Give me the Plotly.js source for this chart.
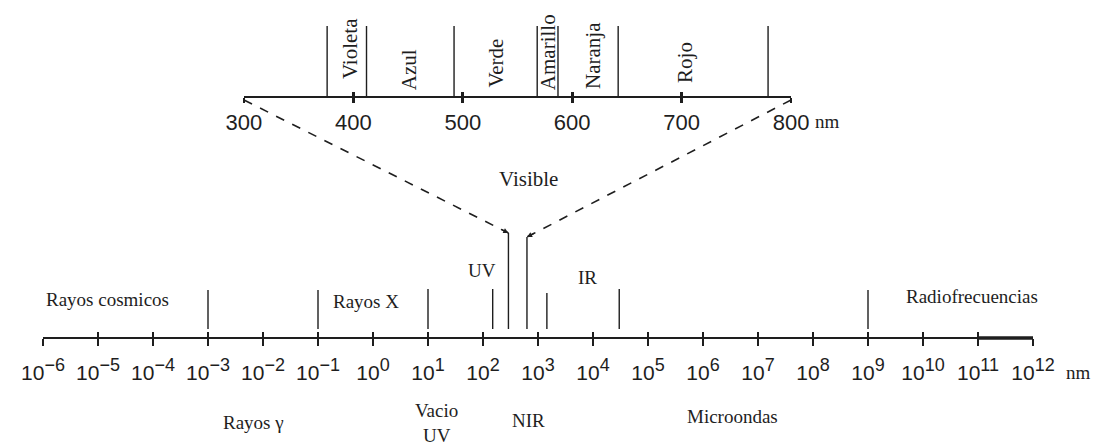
<!DOCTYPE html>
<html><head><meta charset="utf-8">
<script src="https://cdn.plot.ly/plotly-3.0.1.min.js"></script>
<style>html,body{margin:0;padding:0;background:#fff}#chart{width:1093px;height:447px}</style>
</head><body><div id="chart"></div>
<script>
// ---- Bottom scale: whole spectrum, wavelength in nm (log) ----
const decadeValues = [1e-6,1e-5,1e-4,1e-3,1e-2,1e-1,1e0,1e1,1e2,1e3,1e4,1e5,1e6,1e7,1e8,1e9,1e10,1e11,1e12];
const decadeExponents = ['−6','−5','−4','−3','−2','−1','0','1','2','3','4','5','6','7','8','9','10','11','12'];
const bandBoundariesNm = [1e-3, 1e-1, 1e1, 150, 290, 630, 1450, 3e4, 1e9];
const bandsAbove = ['Rayos cosmicos','Rayos X','UV','IR','Radiofrecuencias'];
const bandsAboveNm = [1.5e-5, 0.74, 95, 7800, 7.8e10];
const bandsBelow = ['Rayos γ','Vacio<br>UV','NIR','Microondas'];
const bandsBelowNm = [0.0066, 14.5, 660, 3.4e6];
const visibleLabel = 'Visible';
const visibleLabelNm = 660;
const visibleEdgesNm = [290, 630];
// ---- Top scale: visible spectrum (linear nm) ----
const visibleTicks = [300,400,500,600,700,800];
const colorBoundariesNm = [376,412,492,568,587,642,779];
const colorNames = ['Violeta','Azul','Verde','Amarillo','Naranja','Rojo'];
const colorLabelNm = [397,451,530,578,619,703];

// ---- layout geometry (pixels on a 447px-high y scale) ----
const H = 447;
const yBottomAxis = 338, yTopAxis = 97;
const boundaryTopY = [290,290,289,289,233,237,293,289,290];
const boundaryEndY = 329;
const colorLineTopY = 26;
const aboveY = [299,301,270,277,296];
const belowY = [422,423,420,416];
const colorLabelY = [49,70,63,52,56,62];
const top2Domain = [0.2030, 0.7556];
const ink = '#1e1e1e';
const serif = 'Liberation Serif, Times New Roman, serif';
const sans = 'Liberation Sans, Arial, Helvetica, sans-serif';

const decadeLabels = decadeExponents.map(e => '10<sup><span style="font-size:18px">' + e + '</span></sup>');

const traces = [];
const bx = [], by = [];
bandBoundariesNm.forEach((v,i)=>{ bx.push(v,v,null); by.push(boundaryTopY[i], boundaryEndY, null); });
traces.push({type:'scatter', mode:'lines', x:bx, y:by, xaxis:'x', yaxis:'y',
  line:{color:ink, width:1.4}, hoverinfo:'skip', cliponaxis:false});
traces.push({type:'scatter', mode:'lines', x:[decadeValues[17], decadeValues[18]], y:[yBottomAxis,yBottomAxis],
  xaxis:'x', yaxis:'y', line:{color:ink, width:3.6}, hoverinfo:'skip', cliponaxis:false});
const cx = [], cy = [];
colorBoundariesNm.forEach(v=>{ cx.push(v,v,null); cy.push(colorLineTopY, yTopAxis, null); });
traces.push({type:'scatter', mode:'lines', x:cx, y:cy, xaxis:'x2', yaxis:'y',
  line:{color:ink, width:1.4}, hoverinfo:'skip', cliponaxis:false});
traces.push({type:'scatter', mode:'markers', x:[decadeValues[0]], y:[-50], xaxis:'x3', yaxis:'y', marker:{opacity:0}, hoverinfo:'skip'});
traces.push({type:'scatter', mode:'markers', x:[visibleTicks[0]], y:[-50], xaxis:'x4', yaxis:'y', marker:{opacity:0}, hoverinfo:'skip'});

const posBottom = 1 - yBottomAxis/H;
const posTop = 1 - yTopAxis/H;
const logRange = [Math.log10(decadeValues[0]), Math.log10(decadeValues[decadeValues.length-1])];

const annotations = [];
bandsAbove.forEach((t,i)=>annotations.push({text:t, xref:'x', yref:'y', x:Math.log10(bandsAboveNm[i]), y:aboveY[i],
  showarrow:false, font:{family:serif, size:19, color:ink}}));
bandsBelow.forEach((t,i)=>annotations.push({text:t, xref:'x', yref:'y', x:Math.log10(bandsBelowNm[i]), y:belowY[i],
  showarrow:false, font:{family:serif, size:19, color:ink}}));
annotations.push({text:visibleLabel, xref:'x', yref:'y', x:Math.log10(visibleLabelNm), y:179, showarrow:false,
  font:{family:serif, size:21, color:ink}});
colorNames.forEach((t,i)=>annotations.push({text:t, xref:'x2', yref:'y', x:colorLabelNm[i], y:colorLabelY[i],
  textangle:-90, showarrow:false, font:{family:serif, size:21, color:ink}}));
annotations.push({text:'nm', xref:'paper', yref:'y', x:1.0, xanchor:'left', xshift:31, y:372, showarrow:false,
  font:{family:serif, size:19, color:ink}});
annotations.push({text:'nm', xref:'x2', yref:'y', x:visibleTicks[visibleTicks.length-1], xanchor:'left', xshift:22, y:121, showarrow:false,
  font:{family:serif, size:19, color:ink}});

const toPaperTop = v => top2Domain[0] + (v - visibleTicks[0])/(visibleTicks[visibleTicks.length-1]-visibleTicks[0])*(top2Domain[1]-top2Domain[0]);
const toPaperLog = v => (Math.log10(v) - logRange[0])/(logRange[1]-logRange[0]);
const shapes = [
  {type:'line', xref:'paper', yref:'y', x0:toPaperTop(visibleTicks[0]), y0:yTopAxis+3, x1:toPaperLog(visibleEdgesNm[0]), y1:233,
   line:{color:ink, width:1.6, dash:'dash'}},
  {type:'line', xref:'paper', yref:'y', x0:toPaperTop(visibleTicks[visibleTicks.length-1]), y0:yTopAxis+3, x1:toPaperLog(visibleEdgesNm[1]), y1:237,
   line:{color:ink, width:1.6, dash:'dash'}}
];
annotations.push({text:'', xref:'x', yref:'y', x:Math.log10(visibleEdgesNm[0]), y:233, ax:-9, ay:-4.5,
  showarrow:true, arrowhead:2, arrowsize:0.8, arrowwidth:1.3, arrowcolor:ink, standoff:0});
annotations.push({text:'', xref:'x', yref:'y', x:Math.log10(visibleEdgesNm[1]), y:237, ax:9, ay:-4.6,
  showarrow:true, arrowhead:2, arrowsize:0.8, arrowwidth:1.3, arrowcolor:ink, standoff:0});

const layout = {
  width:1093, height:447,
  margin:{l:43, r:60, t:0, b:0, pad:0},
  paper_bgcolor:'#ffffff', plot_bgcolor:'rgba(0,0,0,0)',
  showlegend:false,
  yaxis:{range:[H,0], domain:[0,1], visible:false, fixedrange:true},
  xaxis:{type:'log', range:logRange, anchor:'free', position:posBottom, showgrid:false, zeroline:false,
    showline:true, linecolor:ink, linewidth:2.4,
    tickmode:'array', tickvals:decadeValues, ticktext:decadeLabels, tickangle:0,
    ticks:'outside', ticklen:7, tickwidth:2.6, tickcolor:ink, ticklabelstandoff:8,
    tickfont:{family:sans, size:21, color:ink}, fixedrange:true},
  xaxis3:{type:'log', range:logRange, overlaying:'x', anchor:'free', position:posBottom, showgrid:false, zeroline:false,
    showline:false, tickmode:'array', tickvals:decadeValues, ticks:'inside', ticklen:6, tickwidth:2.6, tickcolor:ink,
    showticklabels:false, fixedrange:true},
  xaxis2:{range:[visibleTicks[0], visibleTicks[visibleTicks.length-1]], domain:top2Domain, anchor:'free', position:posTop,
    showgrid:false, zeroline:false, showline:true, linecolor:ink, linewidth:2.4,
    tickmode:'array', tickvals:visibleTicks, ticktext:visibleTicks.map(String), tickangle:0,
    ticks:'outside', ticklen:5, tickwidth:2.6, tickcolor:ink,
    tickfont:{family:sans, size:22, color:ink}, fixedrange:true},
  xaxis4:{range:[visibleTicks[0], visibleTicks[visibleTicks.length-1]], domain:top2Domain, overlaying:'x2', anchor:'free', position:posTop,
    showgrid:false, zeroline:false, showline:false, tickmode:'array', tickvals:visibleTicks,
    ticks:'inside', ticklen:5, tickwidth:2.6, tickcolor:ink, showticklabels:false, fixedrange:true},
  annotations, shapes
};
Plotly.newPlot('chart', traces, layout, {staticPlot:true, displayModeBar:false});
</script>
</body></html>
